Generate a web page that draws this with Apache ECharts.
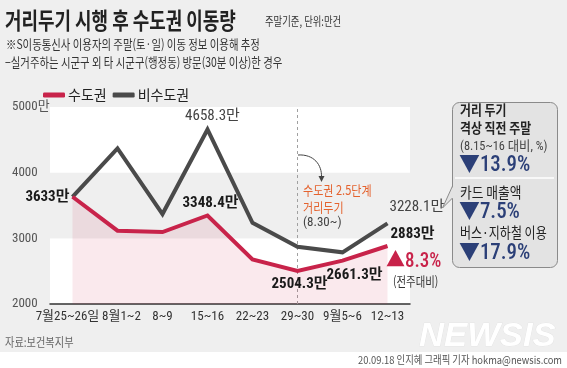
<!DOCTYPE html>
<html><head><meta charset="utf-8">
<script src="https://cdn.jsdelivr.net/npm/echarts@6/dist/echarts.min.js"></script>
<style>html,body{margin:0;padding:0;background:#efefef;}#c{width:567px;height:368px;}</style>
</head><body><div id="c"></div>
<script>
// ---- data ----
const categories = ['7월25~26일', '8월1~2', '8~9', '15~16', '22~23', '29~30', '9월5~6', '12~13'];
const metroValues = [3633, 3116, 3096, 3348.4, 2680, 2504.3, 2661.3, 2883];
const nonMetroValues = [3633, 4370, 3370, 4658.3, 3237, 2872, 2787, 3228.1];
const yTickValues = [2000, 3000, 4000, 5000];
const yTickLabels = ['2000', '3000', '4000', '5000만'];
const seriesNames = ['수도권', '비수도권'];
const metroLabelIdx = [0, 3, 5, 6, 7];
const nonMetroLabelIdx = [3, 7];
const markCategory = '29~30';

// ---- font pick: prefer a narrow face if installed ----
function hasFont(name) {
  const c = document.createElement('canvas').getContext('2d');
  c.font = '20px monospace'; const w0 = c.measureText('0123456789만abc').width;
  c.font = '20px "' + name + '", monospace'; const w1 = c.measureText('0123456789만abc').width;
  return Math.abs(w0 - w1) > 0.5;
}
const narrowCands = ['Liberation Sans Narrow', 'Roboto Condensed', 'DejaVu Sans Condensed', 'Roboto'];
let NARROW = 'Roboto';
for (const n of narrowCands) { if (hasFont(n)) { NARROW = n; break; } }
const F = "'" + NARROW + "', 'Noto Sans CJK KR', sans-serif";
const FK = "'Noto Sans CJK KR', sans-serif";
const RED = '#c8234a', GRAY = '#4a4a4a', BLUE = '#2b3f77', ORANGE = '#e4622e';

const metroLabelStyle = {
  0: {position: 'left', distance: 3},
  3: {position: 'top', distance: 5, offset: [3, 0]},
  5: {position: 'bottom', distance: 6, offset: [2, 0]},
  6: {position: 'bottom', distance: 7, offset: [12, 0]},
  7: {position: 'right', distance: 3, offset: [0, -12]}
};
const nonMetroLabelStyle = {
  3: {position: 'top', distance: 6, offset: [5, 0]},
  7: {position: 'right', distance: 2, offset: [0, -16]}
};
const xLabelPad = {0: [0, 10, 0, 0], 1: [0, 0, 0, 8]};

function buildData(values, idxs, styles, bold, color) {
  return values.map((v, i) => {
    const item = {value: v};
    if (idxs.indexOf(i) >= 0) {
      item.label = Object.assign({
        show: true, formatter: v + '만', fontFamily: F, fontSize: 15,
        fontWeight: bold ? 'bold' : 'normal', color: color
      }, styles[i]);
    }
    return item;
  });
}

function txt(x, y, text, font, fill, sx, align) {
  return {
    type: 'text', x: x, y: y, scaleX: sx || 1, z: 100,
    style: {text: text, x: 0, y: 0, font: font, fill: fill,
      textAlign: align || 'left', align: align || 'left',
      textVerticalAlign: 'middle', verticalAlign: 'middle'}
  };
}

const chart = echarts.init(document.getElementById('c'));
chart.setOption({
  backgroundColor: '#efefef',
  animation: false,
  grid: {left: 50, right: 157, top: 107, bottom: 64},
  legend: {
    data: seriesNames, left: 38, top: 83, icon: 'roundRect', itemWidth: 22, itemHeight: 5,
    itemGap: 6, textStyle: {fontFamily: FK, fontSize: 14, color: '#222', padding: [0, 0, 0, -2]}
  },
  xAxis: {
    type: 'category', data: categories, boundaryGap: true,
    axisLine: {lineStyle: {color: '#333', width: 1.5}},
    axisTick: {inside: true, alignWithLabel: true, length: 6, lineStyle: {color: '#333'}},
    axisLabel: {
      fontFamily: F, fontSize: 13, color: '#333', margin: 6, interval: 0,
      formatter: (v, i) => '{p' + i + '|' + v + '}',
      rich: Object.fromEntries(categories.map((c, i) => ['p' + i, {
        fontFamily: F, fontSize: 13, color: '#333', padding: xLabelPad[i] || [0, 0, 0, 0]
      }]))
    }
  },
  yAxis: {
    type: 'value', min: yTickValues[0], max: yTickValues[yTickValues.length - 1], interval: 1000,
    axisLine: {show: false}, axisTick: {show: false}, splitLine: {show: false},
    splitArea: {show: true, areaStyle: {color: ['#ffffff', '#efefef']}},
    axisLabel: {
      fontFamily: F, fontSize: 13, color: '#555', align: 'left', margin: 38, padding: [6, 0, 0, 0],
      formatter: v => yTickLabels[yTickValues.indexOf(v)]
    }
  },
  series: [
    {
      name: seriesNames[1], type: 'line', symbol: 'circle', symbolSize: 0, z: 2,
      lineStyle: {color: GRAY, width: 4, join: 'miter'}, itemStyle: {color: GRAY},
      data: buildData(nonMetroValues, nonMetroLabelIdx, nonMetroLabelStyle, false, '#444')
    },
    {
      name: seriesNames[0], type: 'line', symbol: 'circle', symbolSize: 0, z: 3,
      lineStyle: {color: RED, width: 4, join: 'miter'}, itemStyle: {color: RED},
      areaStyle: {color: 'rgba(200,35,74,0.14)', origin: 'start'},
      data: buildData(metroValues, metroLabelIdx, metroLabelStyle, true, '#1a1a1a'),
      markLine: {
        silent: true, symbol: 'none', label: {show: false}, z: 1,
        lineStyle: {color: '#a0a0a0', type: [3, 3], width: 1},
        data: [{xAxis: markCategory}]
      }
    }
  ],
  graphic: [
    {type: 'rect', shape: {x: 0, y: 352, width: 567, height: 16}, style: {fill: '#ffffff'}, z: 0},
    txt(5, 20, '거리두기 시행 후 수도권 이동량', 'bold 23px ' + FK, '#222', 0.78),
    txt(265, 21, '주말기준, 단위:만건', '12px ' + FK, '#333', 0.78),
    txt(6, 44, '※S이동통신사 이용자의 주말(토·일) 이동 정보 이용해 추정', '13px ' + FK, '#333', 0.8),
    txt(5, 62, '−실거주하는 시군구 외 타 시군구(행정동) 방문(30분 이상)한 경우', '13px ' + FK, '#333', 0.8),
    {type: 'bezierCurve', z: 100, shape: {x1: 298, y1: 155, cpx1: 314, cpy1: 154, cpx2: 322, cpy2: 165, x2: 321.5, y2: 177},
      style: {stroke: '#444', lineWidth: 1, fill: null}},
    {type: 'polygon', z: 100, shape: {points: [[318.5, 176], [324.5, 176], [321.5, 182]]}, style: {fill: '#444'}},
    txt(303, 190, '수도권 2.5단계', '13px ' + FK, ORANGE, 0.85),
    txt(303, 207, '거리두기', '13px ' + FK, ORANGE, 0.85),
    txt(303, 223, '(8.30~)', '13px ' + F, '#444', 1),
    txt(386, 262, '▲8.3%', '500 20px ' + F, RED, 0.95),
    txt(393, 281, '(전주대비)', '13px ' + FK, '#333', 0.8),
    {type: 'rect', z: 90, shape: {x: 452.5, y: 102.5, width: 105, height: 165, r: 7},
      style: {fill: '#e3e3e3', stroke: '#8a8a8a', lineWidth: 1}},
    {type: 'line', z: 91, shape: {x1: 455, y1: 178, x2: 554, y2: 178}, style: {stroke: '#ffffff', lineWidth: 1.5}},
    {type: 'polygon', z: 91, shape: {points: [[453, 186], [442.5, 208], [453, 198]]}, style: {fill: '#e3e3e3'}},
    {type: 'polyline', z: 92, shape: {points: [[452.5, 186], [442.5, 208], [452.5, 198]]}, style: {stroke: '#8a8a8a', lineWidth: 1, fill: null}},
    txt(460, 110, '거리 두기', 'bold 14px ' + FK, '#222', 0.85),
    txt(460, 128, '격상 직전 주말', 'bold 14px ' + FK, '#222', 0.85),
    txt(460, 147, '(8.15~16 대비, %)', '13px ' + F, '#444', 0.95),
    txt(459, 165, '▼13.9%', '500 22px ' + F, BLUE, 0.95),
    txt(460, 192, '카드 매출액', '15px ' + FK, '#222', 0.85),
    txt(459, 212, '▼7.5%', '500 22px ' + F, BLUE, 0.95),
    txt(460, 232, '버스·지하철 이용', '15px ' + FK, '#222', 0.8),
    txt(459, 253, '▼17.9%', '500 22px ' + F, BLUE, 0.95),
    txt(5, 342, '자료:보건복지부', '12px ' + FK, '#666', 0.85),
    txt(562, 360, '20.09.18 인지혜 그래픽 기자 hokma@newsis.com', '11px ' + FK, '#555', 0.85, 'right'),
    {type: 'text', x: 419, y: 337, z: 50, scaleX: 1.05,
      style: {text: 'NEWSIS', x: 0, y: 0, font: 'italic 900 33px "Liberation Sans", sans-serif',
        fill: '#ffffff', stroke: '#e0e0e0', lineWidth: 0.6,
        textVerticalAlign: 'middle', verticalAlign: 'middle'}}
  ]
});
</script></body></html>
